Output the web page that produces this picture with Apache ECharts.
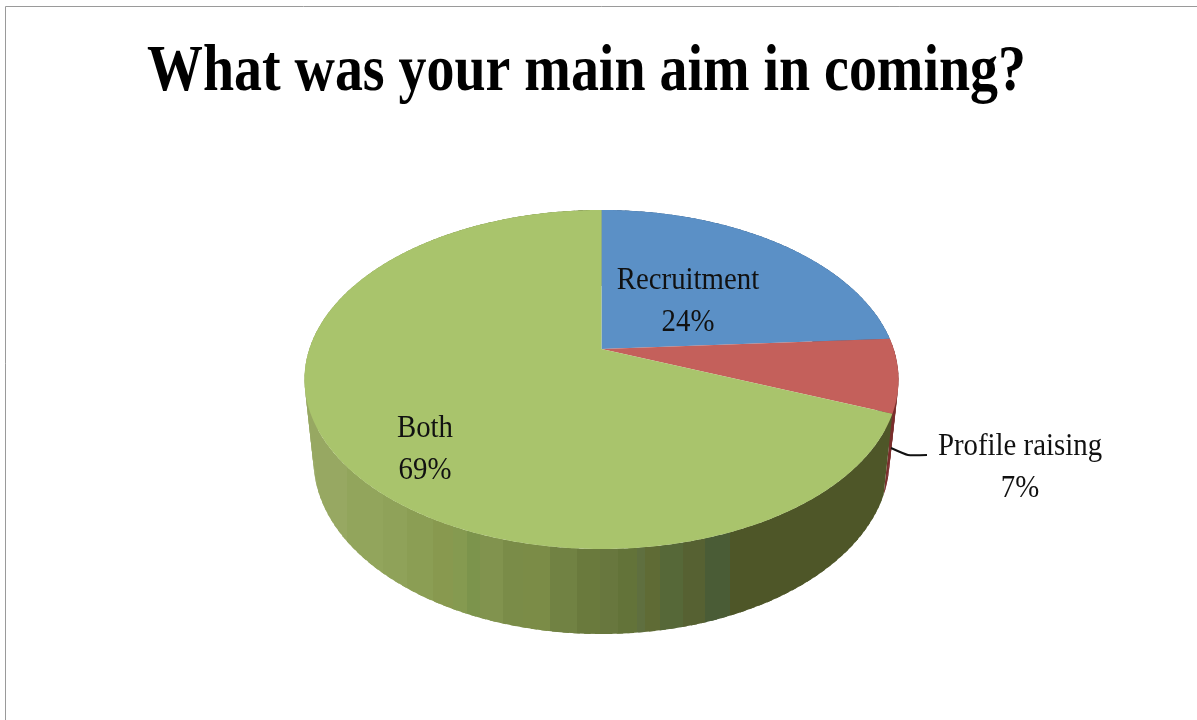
<!DOCTYPE html>
<html>
<head>
<meta charset="utf-8">
<title>What was your main aim in coming?</title>
<style>
  html, body { margin: 0; padding: 0; background: #fff; }
  #chart { width: 1197px; height: 720px; }
</style>
<script src="https://cdn.jsdelivr.net/npm/echarts@6/dist/echarts.min.js"></script>
</head>
<body>
<div id="chart"></div>
<script>
// Survey answers, clockwise from twelve o'clock
const titleText = 'What was your main aim in coming?';
const categories = ['Recruitment', 'Profile raising', 'Both'];
const shares = [24, 7, 69];

// Slice appearance
const faceColors = ['#5B90C6', '#C4605B', '#A9C46C'];
const wallColors = ['#3F648C', '#7A2E2C', null];

// Vertical shading bands on the green wall: right edge in px, then colour
const bandEdges = [347, 383, 407, 433, 453, 467, 480, 503, 523, 550, 577, 600, 618, 637, 645, 660, 683, 705, 730, 900];
const bandColors = ['#97A862', '#92A55C', '#8FA259', '#8B9E54', '#88994F', '#859A50', '#7C944C', '#81934E',
  '#7A8C48', '#7B8C47', '#718243', '#6A7A3D', '#68773E', '#637339', '#5F6F3F', '#5F6B35', '#566838',
  '#566132', '#4A5C36', '#4E5628'];

// Geometry of the tilted disc: outline of the top face, outline of the base,
// and the perspective term that pushes the disc centre up from the ellipse centre
const topRim = { cx: 601.5, cy: 379.5, rx: 297, ry: 169.5 };
const baseRim = { cx: 601.5, cy: 460, rx: 288, ry: 174 };
const tilt = -0.18;

// Where each label sits
const labelSpots = [{ x: 688, y: 302 }, { x: 1020, y: 468 }, { x: 425, y: 450 }];
const labelFont = '31px "Liberation Serif"';
const labelSqueeze = 0.93;

const total = shares.reduce((a, b) => a + b, 0);
const starts = shares.map((_, i) => shares.slice(0, i).reduce((a, b) => a + b, 0));

// Projects a share of the full circle onto a rim, keeping the perspective foreshortening
function rimPoint(rim, share) {
  const t = (share / total) * 2 * Math.PI;
  const x = Math.sin(t);
  const y = -Math.cos(t);
  const d = 1 + tilt * y;
  const px = (x * Math.sqrt(1 - tilt * tilt)) / d;
  const py = (y + tilt) / d;
  return [rim.cx + rim.rx * px, rim.cy + rim.ry * py];
}

function bandGradient() {
  const x0 = 300, x1 = 900, span = x1 - x0;
  const stops = [];
  let from = x0;
  bandEdges.forEach((edge, i) => {
    stops.push({ offset: (from - x0) / span, color: bandColors[i] });
    stops.push({ offset: (edge - x0) / span, color: bandColors[i] });
    from = edge;
  });
  return new echarts.graphic.LinearGradient(x0, 0, x1, 0, stops, true);
}

// Outer wall of one slice, built from overlapping quads between the two rims
function renderWall(params, api) {
  const value = api.value(0), start = api.value(1);
  const fill = wallColors[params.dataIndex] || bandGradient();
  const steps = Math.max(2, Math.ceil(value * 2));
  const children = [];
  for (let s = 0; s < steps; s++) {
    const a = start + (value * s) / steps;
    const b = start + (value * Math.min(s + 1.6, steps)) / steps;
    children.push({
      type: 'polygon',
      shape: { points: [rimPoint(topRim, a), rimPoint(topRim, b), rimPoint(baseRim, b), rimPoint(baseRim, a)] },
      style: { fill: fill }
    });
  }
  return { type: 'group', children: children };
}

// Top face of one slice with its label
function renderFace(params, api) {
  const value = api.value(0), start = api.value(1);
  const i = params.dataIndex;
  const apex = [topRim.cx, topRim.cy + topRim.ry * tilt];
  const points = [apex];
  const steps = Math.ceil(value * 3);
  for (let s = 0; s <= steps; s++) points.push(rimPoint(topRim, start + (value * s) / steps));
  return {
    type: 'group',
    children: [
      { type: 'polygon', shape: { points: points }, style: { fill: faceColors[i] } },
      {
        type: 'text', z2: 10,
        x: labelSpots[i].x, y: labelSpots[i].y, scaleX: labelSqueeze,
        style: {
          text: categories[i] + '\n' + value + '%',
          font: labelFont, lineHeight: 42, fill: '#111',
          align: 'center', verticalAlign: 'middle'
        }
      }
    ]
  };
}

const sliceData = shares.map((v, i) => ({ name: categories[i], value: [v, starts[i]] }));

const chart = echarts.init(document.getElementById('chart'), null, { renderer: 'canvas' });
chart.setOption({
  animation: false,
  backgroundColor: '#fff',
  graphic: [
    // Chart frame: only its top and left edges fall inside the page
    { type: 'polyline', silent: true, shape: { points: [[5.5, 720], [5.5, 6.5], [1197, 6.5]] },
      style: { stroke: '#9a9a9a', lineWidth: 1, fill: null } },
    { type: 'text', x: 147, y: 73, scaleX: 0.86, silent: true,
      style: { text: titleText, font: 'bold 65px "Liberation Serif"', fill: '#000', align: 'left', verticalAlign: 'middle' } },
    // Leader from the outside label to the wall
    { type: 'polyline', silent: true, z: 5, shape: { points: [[891, 448], [908, 455], [927, 455]], smooth: 0.15 },
      style: { stroke: '#111', lineWidth: 2, fill: null } }
  ],
  series: [
    { type: 'custom', coordinateSystem: 'none', renderItem: renderWall, data: sliceData, z: 1, silent: true },
    { type: 'custom', coordinateSystem: 'none', renderItem: renderFace, data: sliceData, z: 2, silent: true }
  ]
});
</script>
</body>
</html>
